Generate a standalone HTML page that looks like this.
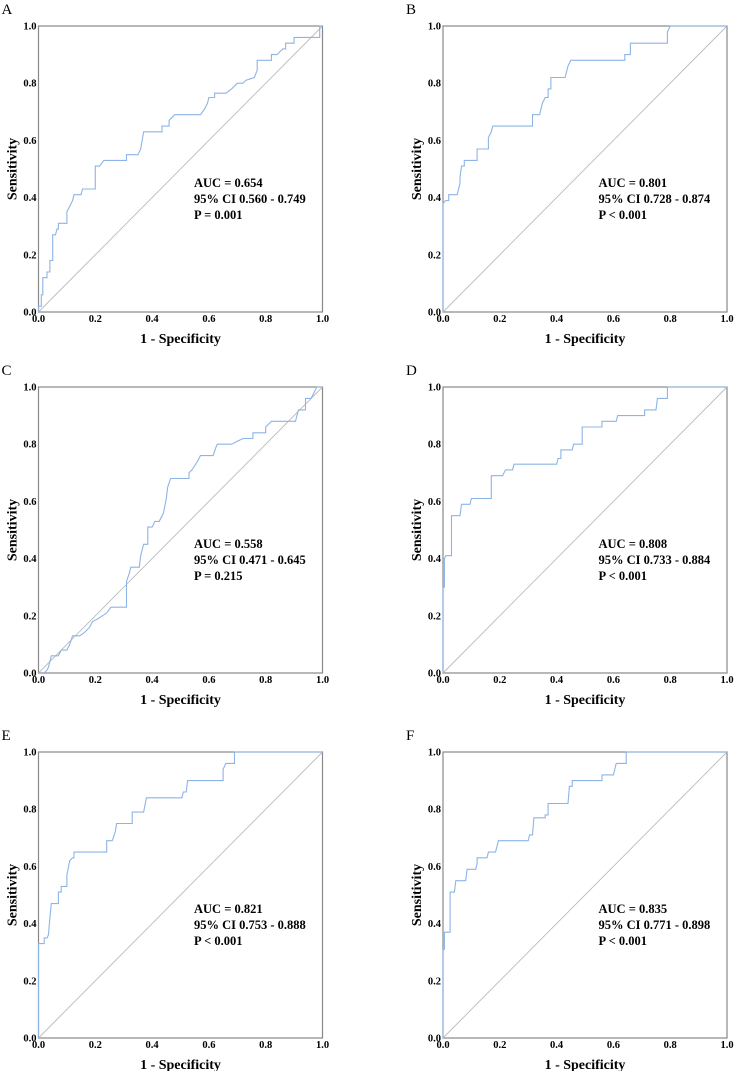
<!DOCTYPE html>
<html><head><meta charset="utf-8"><style>
html,body{margin:0;padding:0;background:#fff;}
svg{display:block;font-family:"Liberation Serif",serif;}
</style></head><body>
<svg id="fig" width="734" height="1071" viewBox="0 0 734 1071" xmlns="http://www.w3.org/2000/svg"></svg>
<script>
const panelLetters = ["A","B","C","D","E","F"];
const aucTexts = ["AUC = 0.654","AUC = 0.801","AUC = 0.558","AUC = 0.808","AUC = 0.821","AUC = 0.835"];
const ciTexts = ["95% CI 0.560 - 0.749","95% CI 0.728 - 0.874","95% CI 0.471 - 0.645","95% CI 0.733 - 0.884","95% CI 0.753 - 0.888","95% CI 0.771 - 0.898"];
const pTexts = ["P = 0.001","P < 0.001","P = 0.215","P < 0.001","P < 0.001","P < 0.001"];
const tickValues = [0,0.2,0.4,0.6,0.8,1.0];
const tickLabels = ["0.0","0.2","0.4","0.6","0.8","1.0"];

const fprA = [0,0,0.01,0.01,0.015,0.015,0.03,0.03,0.04,0.04,0.05,0.05,0.06,0.065,0.07,0.07,0.1,0.1,0.11,0.12,0.125,0.15,0.155,0.2,0.2,0.215,0.23,0.31,0.31,0.35,0.36,0.37,0.435,0.435,0.46,0.46,0.48,0.57,0.585,0.595,0.6,0.62,0.62,0.66,0.68,0.7,0.72,0.73,0.76,0.77,0.77,0.82,0.82,0.84,0.86,0.87,0.87,0.9,0.9,0.99,0.99,1];
const tprA = [0,0.02,0.02,0.06,0.06,0.12,0.12,0.14,0.14,0.18,0.18,0.27,0.27,0.29,0.29,0.31,0.31,0.35,0.37,0.39,0.41,0.41,0.43,0.43,0.51,0.51,0.53,0.53,0.55,0.55,0.57,0.63,0.63,0.65,0.65,0.67,0.69,0.69,0.71,0.73,0.75,0.75,0.765,0.765,0.78,0.8,0.8,0.81,0.82,0.845,0.88,0.88,0.9,0.9,0.92,0.92,0.94,0.94,0.96,0.96,1,1];
const fprB = [0,0,0.01,0.02,0.02,0.05,0.06,0.06,0.065,0.075,0.075,0.12,0.12,0.16,0.16,0.17,0.175,0.315,0.315,0.34,0.35,0.36,0.37,0.37,0.38,0.38,0.43,0.44,0.45,0.64,0.64,0.66,0.66,0.79,0.79,0.8,1];
const tprB = [0,0.38,0.39,0.39,0.41,0.41,0.45,0.47,0.51,0.51,0.53,0.53,0.57,0.57,0.61,0.63,0.65,0.65,0.69,0.69,0.73,0.75,0.75,0.78,0.78,0.82,0.82,0.86,0.88,0.88,0.9,0.9,0.94,0.94,0.98,1,1];
const fprC = [0.02,0.03,0.035,0.04,0.045,0.07,0.08,0.1,0.11,0.12,0.145,0.16,0.18,0.19,0.21,0.24,0.255,0.31,0.31,0.32,0.325,0.355,0.36,0.37,0.385,0.385,0.4,0.41,0.425,0.44,0.45,0.455,0.465,0.53,0.53,0.54,0.56,0.57,0.615,0.625,0.63,0.68,0.7,0.72,0.755,0.755,0.8,0.8,0.82,0.905,0.915,0.94,0.94,0.96,0.98,1];
const tprC = [0,0.01,0.02,0.04,0.06,0.06,0.08,0.08,0.1,0.13,0.13,0.14,0.16,0.18,0.19,0.21,0.23,0.23,0.32,0.35,0.37,0.37,0.41,0.45,0.45,0.51,0.51,0.53,0.53,0.56,0.61,0.65,0.68,0.68,0.7,0.71,0.74,0.76,0.76,0.79,0.8,0.8,0.81,0.82,0.82,0.84,0.84,0.86,0.88,0.88,0.92,0.92,0.96,0.96,1,1];
const fprD = [0,0,0.005,0.005,0.01,0.03,0.03,0.06,0.065,0.095,0.1,0.17,0.17,0.21,0.22,0.245,0.25,0.4,0.405,0.415,0.415,0.455,0.46,0.49,0.49,0.56,0.56,0.61,0.615,0.71,0.71,0.75,0.755,0.79,0.79,1];
const tprD = [0,0.3,0.3,0.4,0.41,0.41,0.55,0.55,0.59,0.59,0.61,0.61,0.69,0.69,0.71,0.71,0.73,0.73,0.75,0.75,0.78,0.78,0.8,0.8,0.86,0.86,0.88,0.88,0.9,0.9,0.92,0.92,0.96,0.96,1,1];
const fprE = [0,0,0.02,0.02,0.03,0.035,0.04,0.045,0.07,0.07,0.08,0.08,0.1,0.1,0.11,0.12,0.125,0.125,0.24,0.24,0.26,0.27,0.275,0.33,0.33,0.37,0.38,0.505,0.51,0.52,0.525,0.65,0.65,0.66,0.69,0.69,1];
const tprE = [0,0.33,0.33,0.35,0.35,0.36,0.42,0.47,0.47,0.51,0.51,0.53,0.53,0.57,0.62,0.63,0.63,0.65,0.65,0.69,0.69,0.72,0.75,0.75,0.79,0.79,0.84,0.84,0.86,0.86,0.9,0.9,0.94,0.96,0.96,1,1];
const fprF = [0,0,0.005,0.005,0.025,0.025,0.04,0.045,0.08,0.085,0.115,0.12,0.12,0.155,0.16,0.185,0.19,0.195,0.3,0.305,0.315,0.32,0.36,0.36,0.37,0.37,0.44,0.445,0.455,0.455,0.56,0.56,0.6,0.605,0.61,0.645,0.645,1];
const tprF = [0,0.31,0.31,0.37,0.37,0.51,0.51,0.55,0.55,0.59,0.59,0.61,0.63,0.63,0.65,0.65,0.67,0.69,0.69,0.71,0.71,0.77,0.77,0.78,0.78,0.82,0.82,0.88,0.88,0.9,0.9,0.92,0.92,0.94,0.96,0.96,1,1];

const fprs = [fprA,fprB,fprC,fprD,fprE,fprF];
const tprs = [tprA,tprB,tprC,tprD,tprE,tprF];

const NS = "http://www.w3.org/2000/svg";
const svg = document.getElementById("fig");
function mk(tag, attrs, parent, text){
  const e = document.createElementNS(NS, tag);
  for (const k in attrs) e.setAttribute(k, attrs[k]);
  if (text !== undefined) e.textContent = text;
  parent.appendChild(e);
  return e;
}
const lefts = [38.5, 443];
const tops = [26, 387, 752];
const W = 284, H = 286;

for (let i = 0; i < 6; i++) {
  const L = lefts[i % 2], T = tops[Math.floor(i / 2)];
  const xs = v => L + v * W;
  const ys = v => T + H - v * H;
  const g = mk("g", {}, svg);
  
  

  const letter = mk("text", {x: L - 37, y: T - 12, "font-size": 15}, g, panelLetters[i]);
  
  

  const frame = mk("rect", {x: L, y: T, width: W, height: H, fill: "none", stroke: "#888", "stroke-width": 1.2}, g);
  
  

  const diag = mk("line", {x1: xs(0), y1: ys(0), x2: xs(1), y2: ys(1), stroke: "#bbb", "stroke-width": 0.9}, g);
  
  

  tickValues.forEach((v, k) => {
    const xt = mk("text", {x: xs(v), y: T + H + 10, "font-size": 10.5, "font-weight": "bold", "text-anchor": "middle"}, g, tickLabels[k]);
    
    
    const yt = mk("text", {x: L - 2, y: ys(v) + 3.5, "font-size": 10.5, "font-weight": "bold", "text-anchor": "end"}, g, tickLabels[k]);
    
    
  });

  const xl = mk("text", {x: L + W / 2, y: T + H + 31, "font-size": 14, "font-weight": "bold", "text-anchor": "middle"}, g, "1 - Specificity");
  
  
  const cy = T + H / 2;
  const yl = mk("text", {x: L - 22, y: cy, "font-size": 14, "font-weight": "bold", "text-anchor": "middle", transform: "rotate(-90 " + (L - 22) + " " + cy + ")"}, g, "Sensitivity");
  
  

  const fp = fprs[i], tp = tprs[i];
  const d = fp.map((v, k) => (k ? "L" : "M") + xs(v).toFixed(1) + " " + ys(tp[k]).toFixed(1)).join(" ");
  const curve = mk("path", {d: d, fill: "none", stroke: "#8db4e6", "stroke-width": 1.1}, g);
  
  

  const lines = [aucTexts[i], ciTexts[i], pTexts[i]];
  lines.forEach((s, k) => {
    const t = mk("text", {x: L + 155.5, y: T + 161 + k * 16, "font-size": 12.5, "font-weight": "bold"}, g, s);
    
    
  });
}
</script>
</body></html>
